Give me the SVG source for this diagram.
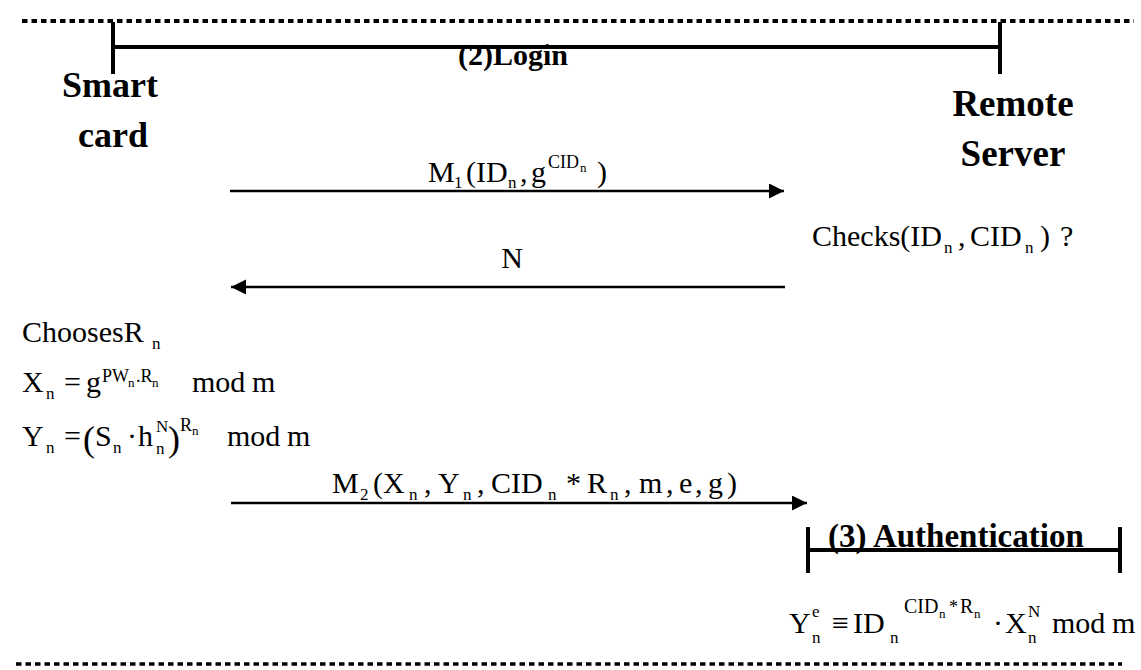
<svg xmlns="http://www.w3.org/2000/svg" width="1141" height="670" viewBox="0 0 1141 670">
  <defs>
    <marker id="arrowhead" markerUnits="userSpaceOnUse" markerWidth="16" markerHeight="16" refX="15" refY="7.5" orient="auto">
      <path d="M0,0 L15,7.5 L0,15 Z" fill="#000"/>
    </marker>
    <style>
      .dots { stroke: #000; fill: none; stroke-dasharray: 5.5 4; }
      .bar { stroke: #000; stroke-width: 4; fill: none; }
      .msg { stroke: #000; stroke-width: 2.6; fill: none; marker-end: url(#arrowhead); }
      .title { font-family: "Liberation Serif", "Times New Roman", serif; font-weight: bold; fill: #000; }
      .m { font-family: "Liberation Serif", "Times New Roman", serif; font-size: 30px; fill: #000; }
      .s { font-size: 17px; }
      .ss { font-size: 13px; }
    </style>
  </defs>

  <!-- section separators -->
  <g id="separators">
    <line class="dots" x1="22" y1="21" x2="1134" y2="21" stroke-width="4"/>
    <line class="dots" x1="16" y1="664" x2="1122" y2="664" stroke-width="3.5"/>
  </g>

  <!-- login phase bracket -->
  <g id="login-phase">
    <path class="bar" d="M113,22 V74 M1000,22 V74 M113,47 H1000"/>
    <text class="title" x="458" y="65" font-size="30">(2)Login</text>
  </g>

  <g id="smart-card">
    <text class="title" x="62" y="97" font-size="36">Smart</text>
    <text class="title" x="78" y="147" font-size="36">card</text>
  </g>

  <g id="remote-server">
    <text class="title" x="1013" y="116" font-size="37" text-anchor="middle">Remote</text>
    <text class="title" x="1013" y="166" font-size="37" text-anchor="middle">Server</text>
  </g>

  <!-- message arrows -->
  <g id="connectors">
    <line class="msg" x1="230" y1="191" x2="784" y2="191"/>
    <line class="msg" x1="785" y1="287" x2="231" y2="287"/>
    <line class="msg" x1="231" y1="503" x2="807" y2="503"/>
  </g>

  <g id="m1-label">
    <text class="m" font-size="28">
      <tspan x="428" y="182">M</tspan><tspan class="s" x="454" y="188">1</tspan><tspan x="466" y="182">(ID</tspan><tspan class="s" x="508" y="188">n</tspan><tspan x="520" y="182">,</tspan><tspan x="531" y="182">g</tspan><tspan font-size="18" x="548" y="168">CID</tspan><tspan class="ss" x="580" y="172">n</tspan><tspan x="597" y="182">)</tspan>
    </text>
  </g>

  <g id="server-check">
    <text class="m">
      <tspan x="812" y="246">Checks(ID</tspan><tspan class="s" x="944" y="253">n</tspan><tspan x="958" y="246">,</tspan><tspan x="970" y="246">CID</tspan><tspan class="s" x="1025" y="253">n</tspan><tspan x="1040" y="246">)</tspan><tspan x="1060" y="246">?</tspan>
    </text>
  </g>

  <g id="n-label">
    <text class="m" x="512" y="268" text-anchor="middle">N</text>
  </g>

  <g id="card-computation">
    <text class="m">
      <tspan x="22" y="342">ChoosesR</tspan><tspan class="s" x="152" y="349">n</tspan>
    </text>
    <text class="m">
      <tspan x="22" y="392">X</tspan><tspan class="s" x="46" y="399">n</tspan><tspan x="64" y="392">=</tspan><tspan x="86" y="392">g</tspan><tspan font-size="18" x="102" y="382">PW</tspan><tspan class="ss" x="128" y="387">n</tspan><tspan font-size="18" x="136" y="382">.R</tspan><tspan class="ss" x="152" y="387">n</tspan><tspan x="192" y="392">mod</tspan><tspan x="252" y="392">m</tspan>
    </text>
    <text class="m">
      <tspan x="22" y="446">Y</tspan><tspan class="s" x="46" y="453">n</tspan><tspan x="64" y="446">=</tspan><tspan font-size="36" x="83" y="451">(</tspan><tspan x="95" y="446">S</tspan><tspan class="s" x="113" y="453">n</tspan><tspan x="127" y="446">·</tspan><tspan x="138" y="446">h</tspan><tspan class="s" x="156" y="432">N</tspan><tspan class="s" x="156" y="454">n</tspan><tspan font-size="36" x="168" y="451">)</tspan><tspan font-size="18" x="180" y="431">R</tspan><tspan class="ss" x="192" y="435">n</tspan><tspan x="227" y="446">mod</tspan><tspan x="287" y="446">m</tspan>
    </text>
  </g>

  <g id="m2-label">
    <text class="m" font-size="32">
      <tspan x="332" y="493">M</tspan><tspan class="s" x="360" y="500">2</tspan><tspan x="373" y="493">(X</tspan><tspan class="s" x="409" y="500">n</tspan><tspan x="424" y="493">,</tspan><tspan x="438" y="493">Y</tspan><tspan class="s" x="463" y="500">n</tspan><tspan x="477" y="493">,</tspan><tspan x="491" y="493">CID</tspan><tspan class="s" x="548" y="500">n</tspan><tspan x="566" y="493">*</tspan><tspan x="587" y="493">R</tspan><tspan class="s" x="610" y="500">n</tspan><tspan x="624" y="493">,</tspan><tspan x="639" y="493">m</tspan><tspan x="666" y="493">,</tspan><tspan x="679" y="493">e</tspan><tspan x="695" y="493">,</tspan><tspan x="708" y="493">g</tspan><tspan x="727" y="493">)</tspan>
    </text>
  </g>

  <!-- authentication phase bracket -->
  <g id="authentication-phase">
    <path class="bar" d="M808,527 V573 M1120,527 V573 M808,550 H1120"/>
    <text class="title" x="828" y="547" font-size="33">(3) Authentication</text>
  </g>

  <g id="server-verification">
    <text class="m">
      <tspan x="789" y="633">Y</tspan><tspan class="s" x="812" y="617">e</tspan><tspan class="s" x="812" y="643">n</tspan><tspan x="832" y="633">≡</tspan><tspan x="853" y="633">ID</tspan><tspan class="s" x="890" y="643">n</tspan><tspan font-size="20" x="904" y="613">CID</tspan><tspan class="ss" x="939" y="618">n</tspan><tspan font-size="18" x="949" y="613">*</tspan><tspan font-size="20" x="960" y="613">R</tspan><tspan class="ss" x="974" y="618">n</tspan><tspan x="993" y="633">·</tspan><tspan x="1005" y="633">X</tspan><tspan class="s" x="1028" y="617">N</tspan><tspan class="s" x="1028" y="643">n</tspan><tspan x="1052" y="633">mod</tspan><tspan x="1112" y="633">m</tspan>
    </text>
  </g>
</svg>
